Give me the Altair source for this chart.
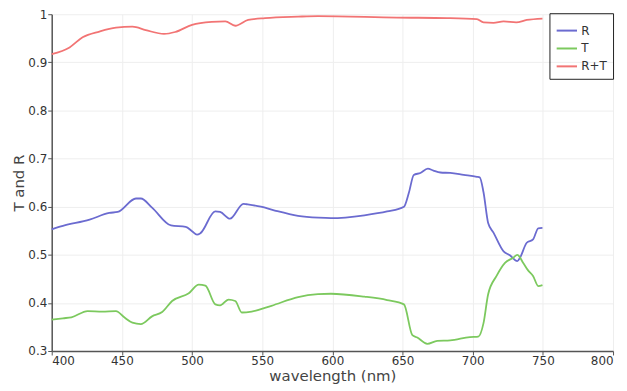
import altair as alt
import pandas as pd

# R (reflectance)
r_wl = [400, 408, 427, 441, 447, 460, 463.5, 471.5, 485, 495.5, 500, 503.5, 506, 516.5, 520, 527, 536.6, 539, 549, 559, 575.5, 590, 599, 622.8, 639, 651, 654.6, 658, 662.7, 668, 672, 677, 684, 693.6, 703, 705, 707.7, 711, 714.8, 722, 726.5, 731.8, 733.7, 738.5, 743, 746.7, 749.7]
r_val = [0.553, 0.560, 0.573, 0.587, 0.589, 0.617, 0.617, 0.598, 0.561, 0.558, 0.549, 0.542, 0.545, 0.590, 0.589, 0.575, 0.606, 0.605, 0.600, 0.592, 0.581, 0.577, 0.576, 0.582, 0.590, 0.600, 0.630, 0.666, 0.670, 0.679, 0.675, 0.671, 0.670, 0.666, 0.662, 0.661, 0.630, 0.566, 0.546, 0.507, 0.499, 0.487, 0.494, 0.525, 0.532, 0.555, 0.556]

# T (transmittance)
t_wl = [400, 408, 414, 425.6, 436, 445.8, 451.7, 457.5, 463.5, 471.5, 478.7, 485.8, 497.7, 504.8, 509.5, 516.6, 520, 526, 530.8, 535.5, 542.5, 556.6, 575.6, 589.7, 599, 622.8, 639, 651, 657, 660.5, 667.6, 674.7, 684, 698, 704, 707.7, 711, 717, 723, 729, 731.8, 736, 739.6, 743, 746.7, 749.7]
t_val = [0.365, 0.368, 0.370, 0.383, 0.382, 0.383, 0.370, 0.359, 0.356, 0.372, 0.381, 0.404, 0.420, 0.438, 0.436, 0.397, 0.395, 0.407, 0.404, 0.380, 0.382, 0.394, 0.412, 0.418, 0.419, 0.413, 0.406, 0.397, 0.333, 0.328, 0.315, 0.321, 0.322, 0.329, 0.330, 0.358, 0.418, 0.456, 0.483, 0.494, 0.500, 0.483, 0.467, 0.456, 0.435, 0.437]

# R+T
s_wl = [400, 412.7, 422, 434, 445.8, 457.5, 467, 480, 488, 500, 514, 523.7, 530.8, 540, 552, 575.6, 589.7, 646, 681.8, 703, 707.7, 714.8, 722, 731, 738.5, 749.7]
s_val = [0.917, 0.931, 0.952, 0.964, 0.972, 0.974, 0.967, 0.959, 0.963, 0.978, 0.984, 0.985, 0.976, 0.988, 0.992, 0.995, 0.996, 0.993, 0.992, 0.990, 0.983, 0.982, 0.985, 0.983, 0.988, 0.991]

series = ["R", "T", "R+T"]
colors = ["#6b6bd0", "#7cc95e", "#f27474"]

rows = []
for name, wl, val in [("R", r_wl, r_val), ("T", t_wl, t_val), ("R+T", s_wl, s_val)]:
    for w, v in zip(wl, val):
        rows.append({"series": name, "wavelength": w, "value": v})
df = pd.DataFrame(rows)

font = "DejaVu Sans"

chart = alt.Chart(df).mark_line(strokeWidth=1.8, interpolate="monotone").encode(
    x=alt.X("wavelength:Q", title="wavelength (nm)",
            scale=alt.Scale(domain=[400, 800], nice=False, zero=False),
            axis=alt.Axis(values=[400, 450, 500, 550, 600, 650, 700, 750, 800])),
    y=alt.Y("value:Q", title="T and R",
            scale=alt.Scale(domain=[0.3, 1], nice=False, zero=False),
            axis=alt.Axis(values=[0.3, 0.4, 0.5, 0.6, 0.7, 0.8, 0.9, 1.0], format="~g")),
    color=alt.Color("series:N", scale=alt.Scale(domain=series, range=colors),
                    legend=alt.Legend(title=None, orient="none", legendX=501, legendY=-1,
                                      strokeColor="#222", padding=6,
                                      symbolType="stroke", symbolSize=420,
                                      symbolStrokeWidth=2, labelFontSize=12,
                                      labelFont=font, labelColor="#333",
                                      rowPadding=0, labelOffset=3)),
).properties(
    width=565, height=339,
    autosize=alt.AutoSizeParams(type="none"),
    padding={"left": 44, "top": 5, "right": 6, "bottom": 38},
).configure_axis(
    domainColor="#555", domainWidth=1.5, tickColor="#555", tickSize=4,
    gridColor="#eeeeee", labelFont=font, labelFontSize=12, labelColor="#333",
    titleFont=font, titleFontSize=15, titleFontWeight="normal", titleColor="#444",
).configure_axisY(titlePadding=1, labelPadding=1).configure_axisX(titlePadding=2, labelPadding=1).configure_view(
    stroke=None
)

chart.save("out.html", embed_options={"renderer": "svg", "actions": False})
